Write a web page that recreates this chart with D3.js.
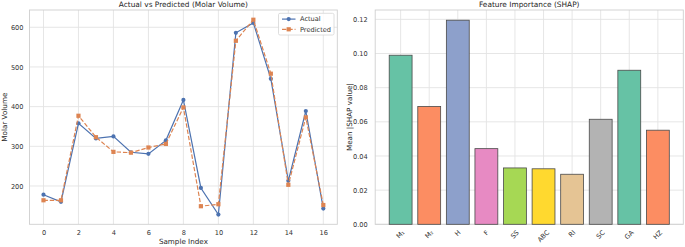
<!DOCTYPE html>
<html>
<head>
<meta charset="utf-8">
<script src="https://cdn.jsdelivr.net/npm/d3@7"></script>
<style>
  body { margin: 0; background: #fff; }
  svg { display: block; font-family: "DejaVu Sans", sans-serif; }
  .tick text { fill: #333; }
</style>
</head>
<body>
<div id="chart"></div>
<script>
// data
const sampleIdx = d3.range(17);
const actual    = [178, 160, 358, 320, 325, 285, 281, 315, 417, 195, 128, 586, 611, 470, 213, 389, 143];
const predicted = [164, 164, 377, 323, 286, 284, 297, 306, 398, 149, 154, 566, 619, 483, 203, 373, 152];
const xTicks1 = [0, 2, 4, 6, 8, 10, 12, 14, 16];
const yTicks1 = [200, 300, 400, 500, 600];

const features = ['M\u2081', 'M\u2082', 'H', 'F', 'SS', 'ABC', 'RI', 'SC', 'GA', 'HZ'];
const shapVals = [0.099, 0.069, 0.1195, 0.0443, 0.0330, 0.0325, 0.0293, 0.0615, 0.0902, 0.0551];
const barColors = ['#66c2a5', '#fc8d62', '#8da0cb', '#e78ac3', '#a6d854', '#ffd92f', '#e5c494', '#b3b3b3', '#66c2a5', '#fc8d62'];
const yTicks2 = [0, 0.02, 0.04, 0.06, 0.08, 0.10, 0.12];

const W = 685, H = 247;
const gridCol = '#e3e3e3', spineCol = '#cfcfcf';
const fsTick = 6.6, fsLabel = 7.2, fsTitle = 7.4;

const svg = d3.select('#chart').append('svg')
  .attr('width', W).attr('height', H);

// ---------- left: line chart ----------
const p1 = { left: 29.5, right: 337.3, top: 10, bottom: 224.3 };
const x1 = d3.scaleLinear().domain([-0.8, 16.8]).range([p1.left, p1.right]);
const allY = actual.concat(predicted);
const ext = d3.extent(allY);
const pad = (ext[1] - ext[0]) * 0.05;
const y1 = d3.scaleLinear().domain([ext[0] - pad, ext[1] + pad]).range([p1.bottom, p1.top]);

const g1 = svg.append('g');

g1.append('g').selectAll('line').data(xTicks1).join('line')
  .attr('x1', d => x1(d)).attr('x2', d => x1(d))
  .attr('y1', p1.top).attr('y2', p1.bottom)
  .attr('stroke', gridCol).attr('stroke-width', 0.9);
g1.append('g').selectAll('line').data(yTicks1).join('line')
  .attr('x1', p1.left).attr('x2', p1.right)
  .attr('y1', d => y1(d)).attr('y2', d => y1(d))
  .attr('stroke', gridCol).attr('stroke-width', 0.9);

g1.append('rect')
  .attr('x', p1.left).attr('y', p1.top)
  .attr('width', p1.right - p1.left).attr('height', p1.bottom - p1.top)
  .attr('fill', 'none').attr('stroke', spineCol).attr('stroke-width', 0.9);

const xAx1 = g1.append('g')
  .attr('transform', `translate(0,${p1.bottom})`)
  .call(d3.axisBottom(x1).tickValues(xTicks1).tickSize(0).tickPadding(6));
const yAx1 = g1.append('g')
  .attr('transform', `translate(${p1.left},0)`)
  .call(d3.axisLeft(y1).tickValues(yTicks1).tickSize(0).tickPadding(6));
[xAx1, yAx1].forEach(a => {
  a.select('.domain').remove();
  a.selectAll('text').style('font-size', fsTick + 'px').style('font-family', 'DejaVu Sans');
});

const line = d3.line().x((d, i) => x1(sampleIdx[i])).y(d => y1(d));

g1.append('path').datum(actual)
  .attr('d', line).attr('fill', 'none')
  .attr('stroke', '#4c72b0').attr('stroke-width', 1.2);
g1.append('g').selectAll('circle').data(actual).join('circle')
  .attr('cx', (d, i) => x1(sampleIdx[i])).attr('cy', d => y1(d))
  .attr('r', 2.1).attr('fill', '#4c72b0');

g1.append('path').datum(predicted)
  .attr('d', line).attr('fill', 'none')
  .attr('stroke', '#dd8452').attr('stroke-width', 1.2)
  .attr('stroke-dasharray', '4.4,1.9');
g1.append('g').selectAll('rect').data(predicted).join('rect')
  .attr('x', (d, i) => x1(sampleIdx[i]) - 2.1).attr('y', d => y1(d) - 2.1)
  .attr('width', 4.2).attr('height', 4.2).attr('fill', '#dd8452');

// legend
const lg = g1.append('g').attr('transform', 'translate(278.5,13.3)');
lg.append('rect').attr('width', 55.5).attr('height', 21.7).attr('rx', 1.5)
  .attr('fill', 'rgba(255,255,255,0.85)').attr('stroke', '#d6d6d6').attr('stroke-width', 0.8);
const legItems = [
  { name: 'Actual', color: '#4c72b0', dash: null, marker: 'circle' },
  { name: 'Predicted', color: '#dd8452', dash: '4.4,1.9', marker: 'square' }
];
legItems.forEach((it, i) => {
  const yy = 5.8 + i * 10.2;
  lg.append('line').attr('x1', 3.5).attr('x2', 17).attr('y1', yy).attr('y2', yy)
    .attr('stroke', it.color).attr('stroke-width', 1.2)
    .attr('stroke-dasharray', it.dash);
  if (it.marker === 'circle') {
    lg.append('circle').attr('cx', 10.2).attr('cy', yy).attr('r', 2.1).attr('fill', it.color);
  } else {
    lg.append('rect').attr('x', 8.1).attr('y', yy - 2.1).attr('width', 4.2).attr('height', 4.2).attr('fill', it.color);
  }
  lg.append('text').attr('x', 21.5).attr('y', yy).attr('dy', '0.35em')
    .style('font-size', fsTick + 'px').attr('fill', '#333').text(it.name);
});

g1.append('text')
  .attr('x', (p1.left + p1.right) / 2).attr('y', 7.4)
  .attr('text-anchor', 'middle').style('font-size', fsTitle + 'px').attr('fill', '#262626')
  .text('Actual vs Predicted (Molar Volume)');
g1.append('text')
  .attr('x', (p1.left + p1.right) / 2).attr('y', 244.3)
  .attr('text-anchor', 'middle').style('font-size', fsLabel + 'px').attr('fill', '#262626')
  .text('Sample Index');
g1.append('text')
  .attr('transform', `translate(7.3,${(p1.top + p1.bottom) / 2}) rotate(-90)`)
  .attr('text-anchor', 'middle').style('font-size', fsLabel + 'px').attr('fill', '#262626')
  .text('Molar Volume');

// ---------- right: SHAP bars ----------
const p2 = { left: 375.2, right: 683.3, top: 10, bottom: 224.3 };
const x2 = d3.scaleLinear().domain([-0.89, features.length - 1 + 0.89]).range([p2.left, p2.right]);
const y2 = d3.scaleLinear().domain([0, d3.max(shapVals) * 1.05]).range([p2.bottom, p2.top]);
const bw = (x2(0.8) - x2(0));

const g2 = svg.append('g');

g2.append('g').selectAll('line').data(features).join('line')
  .attr('x1', (d, i) => x2(i)).attr('x2', (d, i) => x2(i))
  .attr('y1', p2.top).attr('y2', p2.bottom)
  .attr('stroke', gridCol).attr('stroke-width', 0.9);
g2.append('g').selectAll('line').data(yTicks2).join('line')
  .attr('x1', p2.left).attr('x2', p2.right)
  .attr('y1', d => y2(d)).attr('y2', d => y2(d))
  .attr('stroke', gridCol).attr('stroke-width', 0.9);

g2.append('rect')
  .attr('x', p2.left).attr('y', p2.top)
  .attr('width', p2.right - p2.left).attr('height', p2.bottom - p2.top)
  .attr('fill', 'none').attr('stroke', spineCol).attr('stroke-width', 0.9);

g2.append('g').selectAll('rect').data(shapVals).join('rect')
  .attr('x', (d, i) => x2(i) - bw / 2).attr('y', d => y2(d))
  .attr('width', bw).attr('height', d => y2(0) - y2(d))
  .attr('fill', (d, i) => barColors[i])
  .attr('stroke', '#4a4a4a').attr('stroke-width', 0.8);

const yAx2 = g2.append('g')
  .attr('transform', `translate(${p2.left},0)`)
  .call(d3.axisLeft(y2).tickValues(yTicks2).tickFormat(d3.format('.2f')).tickSize(0).tickPadding(7.5));
yAx2.select('.domain').remove();
yAx2.selectAll('text').style('font-size', fsTick + 'px').style('font-family', 'DejaVu Sans');

// rotated category labels, bbox centred under each bar
const fsRot = 6.6;
const labs = g2.append('g').selectAll('text').data(features).join('text')
  .style('font-size', fsRot + 'px').attr('fill', '#333')
  .attr('text-anchor', 'middle').attr('dominant-baseline', 'central')
  .text(d => d);
labs.each(function(d, i) {
  const w = this.getComputedTextLength();
  const h = (w + fsRot * 0.75) * Math.SQRT1_2;
  d3.select(this).attr('transform',
    `translate(${x2(i)},${p2.bottom + 5.5 + h / 2}) rotate(-45)`);
});

g2.append('text')
  .attr('x', (p2.left + p2.right) / 2).attr('y', 7.4)
  .attr('text-anchor', 'middle').style('font-size', fsTitle + 'px').attr('fill', '#262626')
  .text('Feature Importance (SHAP)');
g2.append('text')
  .attr('transform', `translate(351.8,${(p2.top + p2.bottom) / 2}) rotate(-90)`)
  .attr('text-anchor', 'middle').style('font-size', fsLabel + 'px').attr('fill', '#262626')
  .text('Mean |SHAP value|');
</script>
</body>
</html>
